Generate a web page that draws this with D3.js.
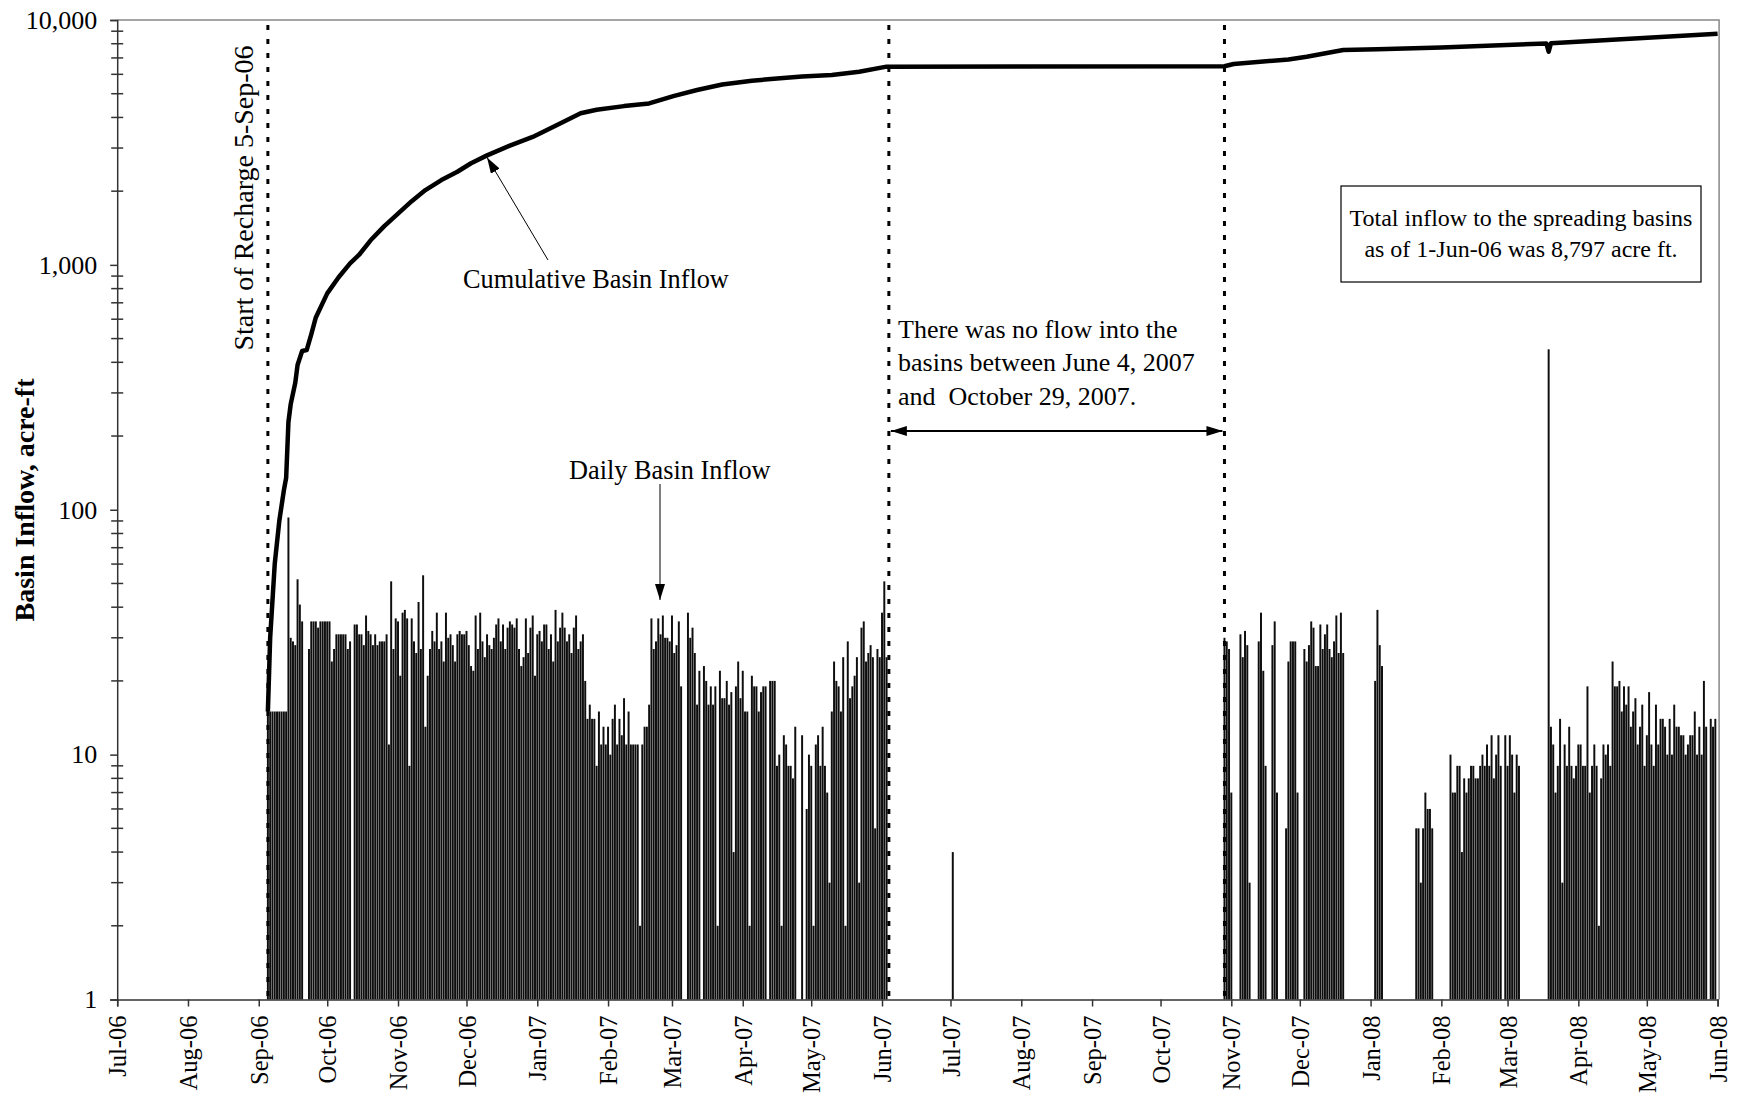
<!DOCTYPE html>
<html>
<head>
<meta charset="utf-8">
<script src="https://cdn.jsdelivr.net/npm/d3@7"></script>
<style>
  body { margin: 0; background: #fff; }
  svg { display: block; font-family: "Liberation Serif", "Times New Roman", serif; }
</style>
</head>
<body>
<script>
// Daily basin inflow (acre-ft), one value per day from the start date, null = no flow.
const flowStartA = "2006-09-05";
const dailyFlowA = [
  15,15,15,15,15,15,15,15,15,93,
  30,29,28,52,41,35,null,null,27,35,
  35,35,33,35,35,35,35,35,24,27,
  31,31,31,31,31,27,29,null,34,34,
  31,31,28,37,32,31,28,31,28,29,
  29,29,31,11,51,27,36,35,21,38,
  39,36,9,36,29,26,42,27,54,13,
  21,27,32,29,38,27,29,24,38,30,
  31,28,24,31,32,31,31,32,28,23,
  22,37,27,38,29,25,31,28,27,30,
  34,36,29,34,27,33,35,34,33,36,
  27,23,25,36,26,33,37,21,31,32,
  29,34,34,27,31,24,39,29,33,38,
  33,29,31,26,33,37,27,29,31,20,
  14,16,14,14,9,15,11,13,11,13,
  10,14,16,11,14,12,17,11,15,11,
  11,11,11,2,11,13,13,16,36,27,
  29,36,31,37,30,30,29,37,26,28,
  35,19,null,null,38,30,33,26,16,22,
  null,23,20,16,19,16,19,2,22,17,
  17,20,16,18,4,19,24,17,22,15,
  15,2,21,19,19,15,18,19,19,null,
  20,20,20,9,10,2,12,11,9,9,
  8,13,null,null,12,null,6,10,9,2,
  11,12,9,13,9,7,3,15,24,20,
  19,15,25,2,29,17,19,21,25,3,
  33,35,24,26,28,25,5,27,25,38,
  51,25
];

const flowStartB = "2007-07-02";
const dailyFlowB = [4];

const flowStartC = "2007-10-29";
const dailyFlowC = [
  30,29,27,7,null,null,null,31,25,32,
  28,3,null,null,null,29,38,22,9,null,
  null,28,35,7,null,null,null,5,24,29,
  29,29,7,null,null,27,24,28,35,33,
  23,23,34,27,31,34,27,25,29,37,
  26,38,26,null,null,null,null,null,null,null,
  null,null,null,null,null,null,20,39,28,23,
  null,null,null,null,null,null,null,null,null,null,
  null,null,null,null,5,5,3,5,7,6,
  6,5,null,null,null,null,null,null,null,10,
  7,7,9,9,4,8,7,8,9,9,
  8,8,9,10,9,11,9,12,8,10,
  12,9,null,12,9,12,10,7,10,9,
  null,null,null,null,null,null,null,null,null,null,
  null,null,452,13,11,7,9,14,3,11,
  9,13,9,8,9,11,11,9,9,19,
  7,9,11,9,2,8,11,10,11,9,
  24,19,19,20,15,19,16,19,13,15,
  17,11,13,16,9,12,18,11,9,16,
  11,14,14,13,10,14,10,16,13,13,
  12,12,10,11,12,12,15,10,13,10,
  20,13,null,14,13,14
];

// Cumulative basin inflow.
const cumDates = [
  "2006-09-05","2006-09-06","2006-09-08","2006-09-10","2006-09-12","2006-09-13",
  "2006-09-14","2006-09-15","2006-09-17","2006-09-18","2006-09-20","2006-09-22",
  "2006-09-24","2006-09-26","2006-10-01","2006-10-06","2006-10-11","2006-10-15",
  "2006-10-20","2006-10-26","2006-11-01","2006-11-07","2006-11-13","2006-11-20",
  "2006-11-27","2006-12-03","2006-12-10","2006-12-20","2006-12-30","2007-01-09",
  "2007-01-20","2007-01-27","2007-02-08","2007-02-19","2007-03-02","2007-03-12",
  "2007-03-23","2007-04-05","2007-04-16","2007-04-27","2007-05-10","2007-05-22",
  "2007-06-03","2007-10-29","2007-11-02","2007-11-26","2007-12-04","2007-12-20",
  "2008-01-04","2008-02-01","2008-03-18","2008-03-19","2008-03-20","2008-04-14",
  "2008-06-01"
];
const cumValues = [
  15,30,60,90,120,135,
  228,270,330,390,445,449,
  520,610,765,890,1014,1100,
  1260,1440,1620,1820,2020,2220,
  2400,2600,2800,3070,3330,3700,
  4160,4300,4450,4565,4900,5180,
  5450,5650,5770,5880,5960,6150,
  6450,6470,6610,6900,7080,7540,
  7590,7730,8020,7420,8030,8280,
  8797
];

const yTicks = [1, 10, 100, 1000, 10000];
const axisStart = "2006-07-01";
const axisEnd = "2008-06-01";
const markerDates = ["2006-09-05", "2007-06-04", "2007-10-29"];

function main() {
  const width = 1739;
  const height = 1099;
  const margin = { top: 20, right: 21.4, bottom: 99.5, left: 117.2 };
  const parse = d3.utcParse("%Y-%m-%d");

  const x = d3.scaleUtc()
    .domain([parse(axisStart), parse(axisEnd)])
    .range([margin.left, width - margin.right]);

  const y = d3.scaleLog()
    .domain([1, 10000])
    .range([height - margin.bottom, margin.top]);

  const svg = d3.create("svg")
    .attr("width", width)
    .attr("height", height);

  const defs = svg.append("defs");
  defs.append("marker")
    .attr("id", "head")
    .attr("viewBox", "0 0 16 10")
    .attr("refX", 16).attr("refY", 5)
    .attr("markerUnits", "userSpaceOnUse")
    .attr("markerWidth", 16).attr("markerHeight", 10)
    .attr("orient", "auto-start-reverse")
    .append("path")
    .attr("d", "M0,0L16,5L0,10Z")
    .attr("fill", "#000");

  // daily bars
  const daily = [];
  [[flowStartA, dailyFlowA], [flowStartB, dailyFlowB], [flowStartC, dailyFlowC]].forEach(([s, vals]) => {
    const d0 = parse(s);
    vals.forEach((v, i) => {
      if (v != null) daily.push({ date: d3.utcDay.offset(d0, i), value: v });
    });
  });
  const dayPx = x(d3.utcDay.offset(parse(axisStart), 1)) - x(parse(axisStart));
  const barW = dayPx * 0.86;

  svg.append("g")
    .attr("fill", "#0e0e0e")
    .selectAll("rect")
    .data(daily)
    .join("rect")
    .attr("x", d => x(d.date) - barW / 2)
    .attr("y", d => y(d.value))
    .attr("width", barW)
    .attr("height", d => y(1) - y(d.value));

  // dashed date markers
  svg.append("g")
    .attr("stroke", "#000")
    .attr("stroke-width", 3)
    .attr("stroke-dasharray", "5,9")
    .selectAll("line")
    .data(markerDates.map(parse))
    .join("line")
    .attr("x1", d => x(d)).attr("x2", d => x(d))
    .attr("y1", margin.top + 5).attr("y2", y(1));

  // cumulative line
  const cum = cumDates.map((d, i) => ({ date: parse(d), value: cumValues[i] }));
  svg.append("path")
    .datum(cum)
    .attr("fill", "none")
    .attr("stroke", "#000")
    .attr("stroke-width", 4.5)
    .attr("stroke-linejoin", "round")
    .attr("d", d3.line().x(d => x(d.date)).y(d => y(d.value)));

  // frame (top/right)
  const x1 = width - margin.right + 1.5;
  svg.append("path")
    .attr("fill", "none")
    .attr("stroke", "#888")
    .attr("stroke-width", 1.5)
    .attr("d", `M${margin.left},${margin.top}H${x1}V${y(1)}`);

  // y axis
  const gy = svg.append("g")
    .attr("transform", `translate(${margin.left},0)`)
    .call(d3.axisLeft(y).tickValues(yTicks).tickFormat(d3.format(",")).tickSize(7).tickPadding(13));
  gy.select(".domain").attr("stroke", "#333").attr("stroke-width", 1.5);
  gy.selectAll(".tick line").attr("stroke", "#333").attr("stroke-width", 1.5);
  gy.selectAll("text").attr("font-family", "Liberation Serif").attr("font-size", 26).attr("fill", "#000");

  const minor = [];
  yTicks.slice(0, -1).forEach(t => { for (let k = 2; k <= 9; k++) minor.push(t * k); });
  svg.append("g")
    .attr("stroke", "#333")
    .attr("stroke-width", 1.5)
    .selectAll("line")
    .data(minor)
    .join("line")
    .attr("x1", margin.left - 6).attr("x2", margin.left + 6)
    .attr("y1", d => y(d)).attr("y2", d => y(d));

  // x axis
  const months = d3.utcMonth.range(parse(axisStart), d3.utcDay.offset(parse(axisEnd), 1));
  const gx = svg.append("g")
    .attr("transform", `translate(0,${y(1)})`)
    .call(d3.axisBottom(x).tickValues(months).tickFormat(d3.utcFormat("%b-%y")).tickSize(7));
  gx.select(".domain").attr("stroke", "#333").attr("stroke-width", 1.5);
  gx.selectAll(".tick line").attr("stroke", "#333").attr("stroke-width", 1.5);
  gx.selectAll("text")
    .attr("font-family", "Liberation Serif")
    .attr("font-size", 24.5)
    .attr("fill", "#000")
    .attr("transform", "rotate(-90)")
    .attr("text-anchor", "end")
    .attr("x", -16)
    .attr("y", 0)
    .attr("dy", "0.35em");

  // y axis title
  svg.append("text")
    .attr("transform", "translate(34,500) rotate(-90)")
    .attr("text-anchor", "middle")
    .attr("font-size", 28)
    .attr("font-weight", "bold")
    .text("Basin Inflow, acre-ft");

  // annotations
  const xs = x(parse(markerDates[0]));
  svg.append("text")
    .attr("transform", `translate(${xs - 15},198) rotate(-90)`)
    .attr("text-anchor", "middle")
    .attr("font-size", 28)
    .text("Start of Recharge 5-Sep-06");

  svg.append("text")
    .attr("x", 463).attr("y", 288)
    .attr("font-size", 26.3)
    .text("Cumulative Basin Inflow");
  svg.append("line")
    .attr("x1", 548).attr("y1", 260)
    .attr("x2", x(parse("2006-12-10"))).attr("y2", y(2800) + 2)
    .attr("stroke", "#000").attr("stroke-width", 1)
    .attr("marker-end", "url(#head)");

  svg.append("text")
    .attr("x", 569).attr("y", 479)
    .attr("font-size", 26.3)
    .text("Daily Basin Inflow");
  svg.append("line")
    .attr("x1", 660).attr("y1", 484)
    .attr("x2", 660).attr("y2", 600)
    .attr("stroke", "#000").attr("stroke-width", 1)
    .attr("marker-end", "url(#head)");

  const note = svg.append("text").attr("font-size", 26).style("white-space", "pre");
  ["There was no flow into the", "basins between June 4, 2007", "and  October 29, 2007."].forEach((t, i) => {
    note.append("tspan").attr("x", 898).attr("y", 337.5 + i * 33.5).text(t);
  });
  svg.append("line")
    .attr("x1", x(parse(markerDates[1])) + 2).attr("x2", x(parse(markerDates[2])) - 2)
    .attr("y1", 431).attr("y2", 431)
    .attr("stroke", "#000").attr("stroke-width", 2)
    .attr("marker-start", "url(#head)")
    .attr("marker-end", "url(#head)");

  svg.append("rect")
    .attr("x", 1341).attr("y", 186)
    .attr("width", 360).attr("height", 96)
    .attr("fill", "#fff").attr("stroke", "#000").attr("stroke-width", 1.2);
  const box = svg.append("text").attr("font-size", 24).attr("text-anchor", "middle");
  ["Total inflow to the spreading basins", "as of 1-Jun-06 was 8,797 acre ft."].forEach((t, i) => {
    box.append("tspan").attr("x", 1521).attr("y", 226 + i * 31).text(t);
  });

  document.body.appendChild(svg.node());
}

main();
</script>
</body>
</html>
